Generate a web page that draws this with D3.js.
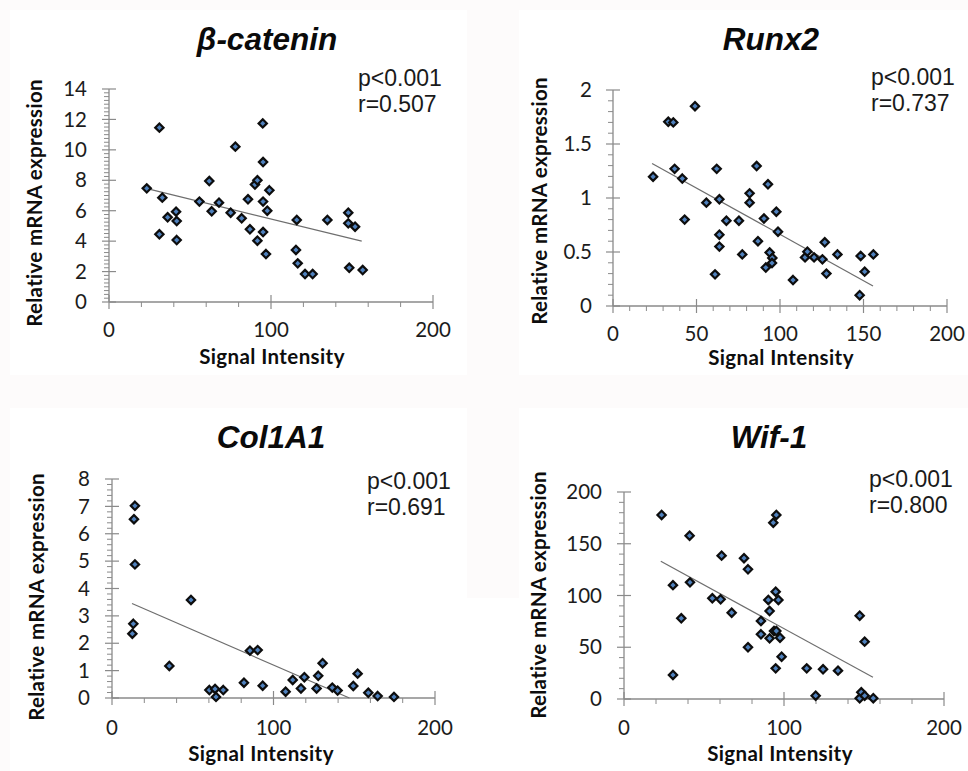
<!DOCTYPE html>
<html>
<head>
<meta charset="utf-8">
<script src="https://cdn.jsdelivr.net/npm/d3@7"></script>
<style>
  body { margin: 0; background: #fdfbfb; }
  svg { display: block; }
</style>
</head>
<body>
<svg width="968" height="771"></svg>
<script>
// beta-catenin
const bcatSignal = [23.3, 31.1, 32.9, 31.1, 36.2, 41.4, 41.8, 41.8, 55.8, 61.9, 63.4, 67.9, 75.1, 78, 81.9, 85.8, 87, 90.1, 91.6, 91.6, 94.9, 95.1, 95.1, 95.1, 97.7, 96.9, 99, 115.9, 115.4, 116.5, 121, 125.7, 134.8, 147.7, 147.7, 151.9, 148.3, 156.6]
const bcatExpr = [7.47, 11.46, 6.86, 4.45, 5.57, 5.94, 5.32, 4.07, 6.6, 7.95, 5.96, 6.53, 5.87, 10.21, 5.5, 6.75, 4.78, 7.72, 8.0, 4.03, 11.74, 9.2, 6.6, 4.6, 6.0, 3.15, 7.34, 5.39, 3.42, 2.54, 1.84, 1.84, 5.39, 5.87, 5.17, 4.95, 2.25, 2.1]
const bcatTrendX = [23.5, 156]
const bcatTrendY = [7.45, 4.0]

// Runx2
const runxSignal = [24, 33.1, 36.1, 36.9, 41.5, 42.9, 49.1, 55.9, 61.1, 62.1, 63.7, 63.7, 63.7, 67.9, 75.4, 77.4, 81.8, 81.8, 86, 86.8, 90.4, 91.5, 92.8, 93.8, 95.4, 95.2, 97.8, 98.8, 107.8, 115, 116.4, 120.4, 125.4, 126.8, 127.8, 134.4, 147.7, 148.3, 150.7, 155.9]
const runxExpr = [1.197, 1.706, 1.70, 1.27, 1.18, 0.80, 1.85, 0.957, 0.293, 1.27, 0.988, 0.66, 0.55, 0.79, 0.79, 0.478, 1.043, 0.957, 1.296, 0.60, 0.81, 0.356, 1.127, 0.495, 0.445, 0.398, 0.873, 0.688, 0.24, 0.45, 0.503, 0.45, 0.432, 0.59, 0.30, 0.478, 0.10, 0.463, 0.318, 0.478]
const runxTrendX = [23.4, 155.7]
const runxTrendY = [1.32, 0.185]

// Col1A1
const colSignal = [14.2, 13.6, 14.2, 13.2, 12.6, 35.5, 48.9, 60.3, 63.8, 64.4, 68.9, 81.7, 85.4, 90.2, 93.3, 107.5, 111.9, 117, 119.1, 126.7, 127.7, 130.4, 136.4, 139.7, 149.4, 152.1, 158.7, 164.5, 174.6]
const colExpr = [7.02, 6.53, 4.88, 2.71, 2.35, 1.17, 3.58, 0.29, 0.33, 0.04, 0.29, 0.56, 1.73, 1.75, 0.45, 0.23, 0.66, 0.35, 0.76, 0.35, 0.81, 1.27, 0.38, 0.27, 0.44, 0.89, 0.19, 0.07, 0.04]
const colTrendX = [12.4, 147]
const colTrendY = [3.45, 0]

// Wif-1
const wifSignal = [23.5, 30.6, 30.6, 35.8, 41, 41.25, 55.2, 60.4, 61, 67.3, 75, 77.5, 77.5, 85.6, 85.6, 90.2, 91, 91, 93.3, 95.2, 94.8, 96.5, 93.75, 95.2, 97.5, 98.5, 94.8, 114.2, 119.8, 124.4, 133.75, 147.3, 150.4, 147.3, 148.3, 150.4, 155.8]
const wifExpr = [177.8, 110, 23.2, 78, 157.8, 112.7, 97.3, 96.3, 138.5, 83.4, 136, 125.3, 50, 75.4, 62.5, 95.7, 85, 58.6, 170.3, 177.8, 103.7, 95.7, 65.7, 65.7, 59.2, 40.9, 29.6, 29.6, 3.2, 28.7, 27.4, 80.5, 55.4, 0.7, 6.5, 3.2, 0.8]
const wifTrendX = [23, 155.6]
const wifTrendY = [133, 21]

const titles = ['β-catenin', 'Runx2', 'Col1A1', 'Wif-1']
const pValues = ['p<0.001', 'p<0.001', 'p<0.001', 'p<0.001']
const rValues = ['r=0.507', 'r=0.737', 'r=0.691', 'r=0.800']

// axis settings per chart: [max, major, minor]
const xAxes = [[200, 100, 20], [200, 50, 10], [200, 100, 20], [200, 100, 20]]
const yAxes = [[14, 2, 0.25], [2, 0.5, 0.1], [8, 1, 0.2], [200, 50, 10]]

const layout = [
  { x0: 109, x1: 433, yb: 302, yt: 89, title: [267, 50], stats: [358, 86], ylab: [41.5, 203], xlab: [272, 364], xtick: 337, ytick: 87 },
  { x0: 613, x1: 947, yb: 306, yt: 90, title: [771, 50], stats: [871, 85], ylab: [546.5, 201], xlab: [781, 365], xtick: 341, ytick: 592 },
  { x0: 112, x1: 435, yb: 698, yt: 479, title: [271, 448], stats: [367, 489], ylab: [44, 597], xlab: [261, 761], xtick: 735, ytick: 90 },
  { x0: 624, x1: 944, yb: 699, yt: 492, title: [769, 448], stats: [869, 487], ylab: [546, 595], xlab: [780, 761], xtick: 735, ytick: 602 },
]

const series = [
  [bcatSignal, bcatExpr, bcatTrendX, bcatTrendY],
  [runxSignal, runxExpr, runxTrendX, runxTrendY],
  [colSignal, colExpr, colTrendX, colTrendY],
  [wifSignal, wifExpr, wifTrendX, wifTrendY],
]

const svg = d3.select('svg')

// white panel backgrounds
const bgRects = [[10, 10, 457, 365], [519, 10, 449, 365], [10, 408, 457, 363], [519, 408, 449, 363], [467, 598, 52, 173]]
svg.selectAll('rect.bg').data(bgRects).join('rect')
  .attr('x', d => d[0]).attr('y', d => d[1]).attr('width', d => d[2]).attr('height', d => d[3])
  .attr('fill', '#fff')

const axisColor = '#8a8a8a'
const tickFont = 'Lato, "Open Sans", sans-serif'
const arial = '"Liberation Sans", Arial, sans-serif'

const diamond = d3.symbol().type(d3.symbolDiamond2 || d3.symbolDiamond).size(44)

titles.forEach((title, i) => {
  const L = layout[i]
  const [xs, ys, tx, ty] = series[i]
  const [xMax, xMajor, xMinor] = xAxes[i]
  const [yMax, yMajor, yMinor] = yAxes[i]

  const x = d3.scaleLinear().domain([0, xMax]).range([L.x0, L.x1])
  const y = d3.scaleLinear().domain([0, yMax]).range([L.yb, L.yt])

  const g = svg.append('g')

  // minor ticks (outside)
  const xMinorTicks = d3.range(0, xMax + 1e-9, xMinor).filter(v => Math.abs(v / xMajor - Math.round(v / xMajor)) > 1e-6)
  const yMinorTicks = d3.range(0, yMax + 1e-9, yMinor).filter(v => Math.abs(v / yMajor - Math.round(v / yMajor)) > 1e-6)
  const xMajorTicks = d3.range(0, xMax + 1e-9, xMajor)
  const yMajorTicks = d3.range(0, yMax + 1e-9, yMajor)

  g.selectAll('line.xmin').data(xMinorTicks).join('line')
    .attr('x1', d => x(d)).attr('x2', d => x(d))
    .attr('y1', L.yb).attr('y2', L.yb + 5)
    .attr('stroke', axisColor).attr('stroke-width', 1)
  g.selectAll('line.ymin').data(yMinorTicks).join('line')
    .attr('x1', L.x0 - 5).attr('x2', L.x0)
    .attr('y1', d => y(d)).attr('y2', d => y(d))
    .attr('stroke', axisColor).attr('stroke-width', 1)

  // major ticks (cross)
  g.selectAll('line.xmaj').data(xMajorTicks).join('line')
    .attr('x1', d => x(d)).attr('x2', d => x(d))
    .attr('y1', L.yb - 7).attr('y2', L.yb + 7)
    .attr('stroke', axisColor).attr('stroke-width', 1.2)
  g.selectAll('line.ymaj').data(yMajorTicks).join('line')
    .attr('x1', L.x0 - 7).attr('x2', L.x0 + 7)
    .attr('y1', d => y(d)).attr('y2', d => y(d))
    .attr('stroke', axisColor).attr('stroke-width', 1.2)

  // axis lines
  g.append('line').attr('x1', L.x0).attr('x2', L.x1).attr('y1', L.yb).attr('y2', L.yb)
    .attr('stroke', axisColor).attr('stroke-width', 1.3)
  g.append('line').attr('x1', L.x0).attr('x2', L.x0).attr('y1', L.yt).attr('y2', L.yb)
    .attr('stroke', axisColor).attr('stroke-width', 1.3)

  // tick labels
  g.selectAll('text.xl').data(xMajorTicks).join('text')
    .attr('x', d => x(d)).attr('y', L.xtick)
    .attr('text-anchor', 'middle')
    .style('font-family', tickFont).style('font-size', '20.5px').attr('fill', '#1c1c1c')
    .text(d => d)
  g.selectAll('text.yl').data(yMajorTicks).join('text')
    .attr('x', L.ytick).attr('y', d => y(d))
    .attr('dy', '0.35em')
    .attr('text-anchor', 'end')
    .style('font-family', tickFont).style('font-size', '20.5px').attr('fill', '#1c1c1c')
    .text(d => d)

  // trend line
  g.append('line')
    .attr('x1', x(tx[0])).attr('y1', y(ty[0]))
    .attr('x2', x(tx[1])).attr('y2', y(ty[1]))
    .attr('stroke', '#6e6e6e').attr('stroke-width', 1.2)

  // points
  g.selectAll('path.pt').data(xs.map((v, k) => [v, ys[k]])).join('path')
    .attr('d', diamond)
    .attr('transform', d => `translate(${x(d[0])},${y(d[1])})`)
    .attr('fill', '#4f81bd').attr('stroke', '#0d0d0d').attr('stroke-width', 2.2)

  // titles and labels
  g.append('text')
    .attr('x', L.title[0]).attr('y', L.title[1])
    .attr('text-anchor', 'middle')
    .style('font-family', arial).style('font-size', '31.5px')
    .style('font-weight', 'bold').style('font-style', 'italic')
    .attr('fill', '#0a0a0a')
    .text(title)

  g.append('text')
    .attr('x', L.stats[0]).attr('y', L.stats[1])
    .style('font-family', arial).style('font-size', '23px').attr('fill', '#1a1a1a')
    .text(pValues[i])
  g.append('text')
    .attr('x', L.stats[0]).attr('y', L.stats[1] + 26)
    .style('font-family', arial).style('font-size', '23px').attr('fill', '#1a1a1a')
    .text(rValues[i])

  g.append('text')
    .attr('transform', `translate(${L.ylab[0]},${L.ylab[1]}) rotate(-90)`)
    .attr('text-anchor', 'middle')
    .style('font-family', tickFont).style('font-size', '20.5px').style('font-weight', 'bold')
    .style('letter-spacing', '0.3px')
    .attr('fill', '#0d0d0d')
    .text('Relative mRNA expression')

  g.append('text')
    .attr('x', L.xlab[0]).attr('y', L.xlab[1])
    .attr('text-anchor', 'middle')
    .style('font-family', tickFont).style('font-size', '20.5px').style('font-weight', 'bold')
    .style('letter-spacing', '0.4px')
    .attr('fill', '#0d0d0d')
    .text('Signal Intensity')
})
</script>
</body>
</html>
